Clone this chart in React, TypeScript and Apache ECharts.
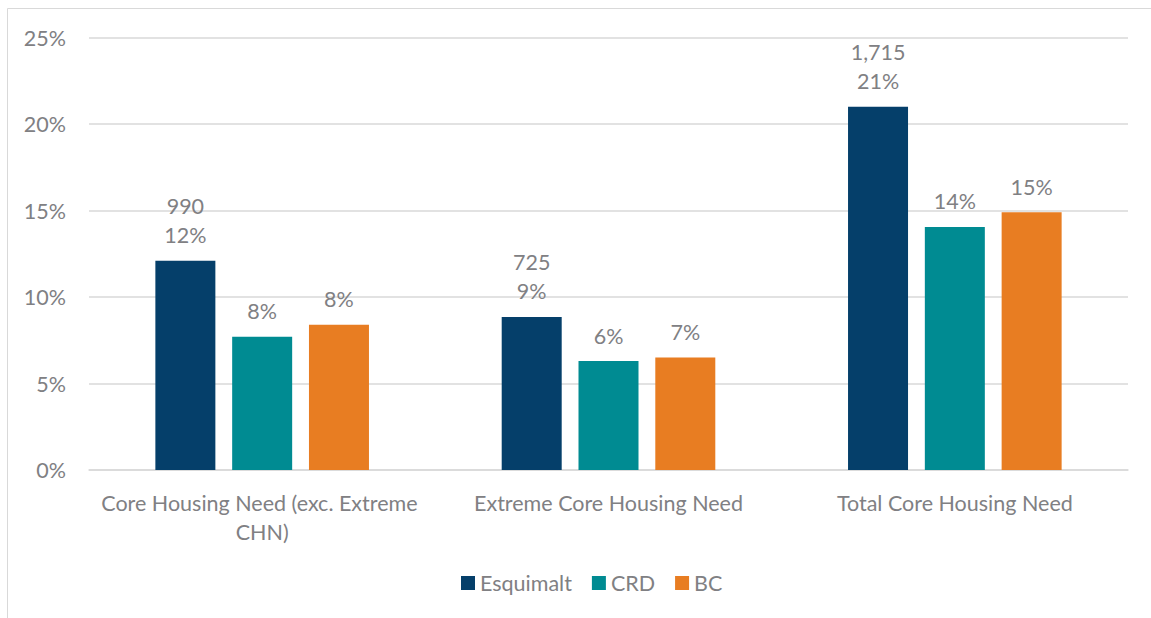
import React, { useEffect, useRef } from "react";
import * as echarts from "echarts";

const categories = [
  "Core Housing Need (exc. Extreme CHN)",
  "Extreme Core Housing Need",
  "Total Core Housing Need",
];
const esquimalt = [12.1, 8.85, 21.0];
const esquimaltCounts = ["990", "725", "1,715"];
const crd = [7.7, 6.3, 14.05];
const bc = [8.4, 6.5, 14.9];
const yTicks = [0, 5, 10, 15, 20, 25];

const TEXT = "#808083";
const FONT = "Lato, 'Open Sans', sans-serif";
const FS = 21.5;

export default function App() {
  const ref = useRef<HTMLDivElement>(null);
  useEffect(() => {
    if (!ref.current) return;
    const chart = echarts.init(ref.current, undefined, { renderer: "svg" });
    const labelBase = {
      show: true,
      position: "top" as const,
      distance: 11,
      color: TEXT,
      fontSize: FS,
      fontFamily: FONT,
      lineHeight: 29,
    };
    chart.setOption({
      animation: false,
      textStyle: { fontFamily: FONT },
      graphic: [
        { type: "line", shape: { x1: 7.5, y1: 8.5, x2: 7.5, y2: 618 }, style: { stroke: "#d9d9d9", lineWidth: 1 } },
        { type: "line", shape: { x1: 7.5, y1: 8.5, x2: 1151, y2: 8.5 }, style: { stroke: "#d9d9d9", lineWidth: 1 } },
      ],
      grid: { left: 89, right: 23, top: 37.5, bottom: 148, containLabel: false },
      legend: {
        top: 567,
        left: 456,
        icon: "rect",
        itemWidth: 14,
        itemHeight: 14,
        itemGap: 20,
        textStyle: { color: TEXT, fontSize: FS, fontFamily: FONT },
        data: ["Esquimalt", "CRD", "BC"],
      },
      xAxis: {
        type: "category",
        data: categories,
        axisLine: { show: true, lineStyle: { color: "#d9d9d9", width: 1.5 } },
        axisTick: { show: false },
        axisLabel: {
          color: TEXT,
          fontSize: FS,
          fontFamily: FONT,
          margin: 18,
          lineHeight: 29,
          width: 340,
          overflow: "break",
          interval: 0,
        },
      },
      yAxis: {
        type: "value",
        min: yTicks[0],
        max: yTicks[yTicks.length - 1],
        interval: 5,
        axisLine: { show: false },
        axisTick: { show: false },
        splitLine: { lineStyle: { color: "#d9d9d9", width: 1.5 } },
        axisLabel: {
          color: TEXT,
          fontSize: FS,
          fontFamily: FONT,
          margin: 23,
          formatter: (v: number) => v + "%",
        },
      },
      series: [
        {
          name: "Esquimalt",
          type: "bar",
          data: esquimalt,
          barWidth: 60,
          barGap: "28%",
          itemStyle: { color: "#053f6a" },
          label: {
            ...labelBase,
            formatter: (p: any) => esquimaltCounts[p.dataIndex] + "\n" + Math.round(p.value) + "%",
          },
        },
        {
          name: "CRD",
          type: "bar",
          data: crd,
          barWidth: 60,
          barGap: "28%",
          itemStyle: { color: "#008b92" },
          label: { ...labelBase, formatter: (p: any) => Math.round(p.value) + "%" },
        },
        {
          name: "BC",
          type: "bar",
          data: bc,
          barWidth: 60,
          barGap: "28%",
          itemStyle: { color: "#e87d22" },
          label: { ...labelBase, formatter: (p: any) => Math.round(p.value) + "%" },
        },
      ],
    });
    return () => chart.dispose();
  }, []);
  return (
    <div
      ref={ref}
      style={{ position: "fixed", left: 0, top: 0, width: 1151, height: 618, background: "#fff" }}
    />
  );
}
